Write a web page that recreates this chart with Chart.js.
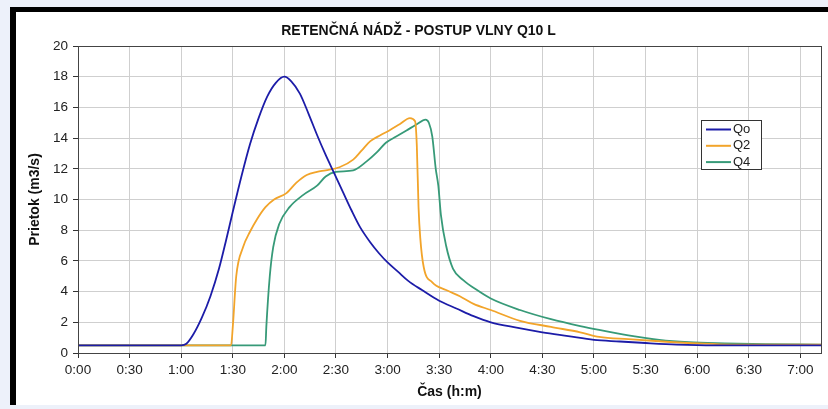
<!DOCTYPE html>
<html>
<head>
<meta charset="utf-8">
<title>Retenčná nádž - postup vlny Q10 L</title>
<script src="https://cdn.jsdelivr.net/npm/chart.js@4/dist/chart.umd.min.js"></script>
<style>
  body { margin: 0; background: #edf1fa; }
  #frame {
    position: absolute; left: 10px; top: 7px;
    width: 812px; height: 393px;
    background: #fff;
    border-left: 6px solid #000;
    border-top: 5px solid #000;
  }
  #chart { display: block; }
</style>
</head>
<body>
<div id="frame"><canvas id="chart" width="812" height="393"></canvas></div>
<script>
// time in minutes, flow in m3/s
var qoTime = [0, 60, 63, 67, 72, 77, 82, 86, 90, 95, 100, 105, 110, 115, 120, 124, 129, 134, 139, 144, 149, 154, 159, 164, 170, 175, 180, 186, 192, 200, 210, 220, 230, 240, 255, 270, 285, 300, 315, 330, 348, 370, 432];
var qoFlow = [0.5, 0.5, 0.6, 1.2, 2.3, 3.7, 5.5, 7.3, 9.2, 11.5, 13.6, 15.3, 16.7, 17.6, 18.0, 17.7, 16.9, 15.6, 14.2, 12.9, 11.7, 10.5, 9.3, 8.2, 7.2, 6.5, 5.9, 5.3, 4.7, 4.1, 3.4, 2.9, 2.4, 2.0, 1.65, 1.35, 1.1, 0.85, 0.75, 0.65, 0.55, 0.5, 0.5];

var q2Time = [0, 89, 90, 92, 96, 100, 104, 109, 114, 121, 127, 133, 139, 144, 152, 160, 165, 170, 176, 181, 187, 193, 196, 197, 198, 199, 201, 206, 214, 222, 230, 240, 257, 275, 292, 303, 320, 340, 361, 380, 432];
var q2Flow = [0.5, 0.5, 1.7, 5.0, 6.9, 7.9, 8.7, 9.5, 10.0, 10.4, 11.1, 11.6, 11.8, 11.9, 12.1, 12.6, 13.2, 13.8, 14.2, 14.5, 14.9, 15.3, 15.1, 13.5, 9.5, 7.5, 5.6, 4.6, 4.1, 3.7, 3.2, 2.8, 2.1, 1.7, 1.35, 1.05, 0.9, 0.75, 0.62, 0.55, 0.55];

var q4Time = [0, 109, 109.5, 111.5, 113.5, 117, 123, 131, 139, 144, 150, 160, 168, 174, 179, 185, 191, 197, 202, 204, 206, 208, 209.5, 211, 214, 218, 224, 232, 240, 257, 275, 292, 303, 320, 338, 355, 376, 400, 432];
var q4Flow = [0.5, 0.5, 1.7, 5.0, 6.9, 8.4, 9.5, 10.3, 10.9, 11.5, 11.8, 11.9, 12.5, 13.1, 13.7, 14.1, 14.5, 14.9, 15.2, 15.0, 14.1, 12.0, 10.9, 9.0, 7.0, 5.5, 4.75, 4.1, 3.55, 2.8, 2.2, 1.75, 1.5, 1.15, 0.85, 0.7, 0.63, 0.58, 0.55];

var seriesNames = ['Qo', 'Q2', 'Q4'];
var seriesColors = ['#1c1ca8', '#f2a42a', '#379a78'];

// x axis ticks (minutes) -> labels 0:00 ... 7:00
var xTickMinutes = [0, 30, 60, 90, 120, 150, 180, 210, 240, 270, 300, 330, 360, 390, 420];

function toPoints(times, flows) {
  var pts = [];
  for (var i = 0; i < times.length; i++) {
    pts.push({ x: times[i], y: flows[i] });
  }
  return pts;
}

function formatTime(min) {
  var h = Math.floor(min / 60);
  var m = min % 60;
  return h + ':' + (m < 10 ? '0' : '') + m;
}

// plot border + legend box inside the plot area
var boxPlugin = {
  id: 'boxPlugin',
  afterDraw: function (chart) {
    var ctx = chart.ctx;
    var a = chart.chartArea;
    ctx.save();
    ctx.strokeStyle = '#444';
    ctx.lineWidth = 1;
    ctx.strokeRect(Math.round(a.left) + 0.5, Math.round(a.top) + 0.5, Math.round(a.right - a.left), Math.round(a.bottom - a.top));

    var lx = Math.round(a.right) - 120, ly = Math.round(a.top) + 74;
    ctx.fillStyle = '#fff';
    ctx.fillRect(lx, ly, 60, 49);
    ctx.strokeStyle = '#333';
    ctx.strokeRect(lx + 0.5, ly + 0.5, 60, 49);
    ctx.font = '13px "Liberation Sans", Arial, sans-serif';
    ctx.textBaseline = 'middle';
    chart.data.datasets.forEach(function (ds, i) {
      var yy = ly + 9.5 + i * 16.3;
      ctx.strokeStyle = ds.borderColor;
      ctx.lineWidth = 2;
      ctx.beginPath();
      ctx.moveTo(lx + 5, yy);
      ctx.lineTo(lx + 30, yy);
      ctx.stroke();
      ctx.fillStyle = '#222';
      ctx.fillText(ds.label, lx + 32, yy);
    });
    ctx.restore();
  }
};

var tickFont = { family: '"Liberation Sans", Arial, sans-serif', size: 13.5 };
var boldFont = { family: '"Liberation Sans", Arial, sans-serif', size: 14, weight: 'bold' };

new Chart(document.getElementById('chart'), {
  type: 'line',
  data: {
    datasets: [
      { label: seriesNames[0], data: toPoints(qoTime, qoFlow), borderColor: seriesColors[0] },
      { label: seriesNames[1], data: toPoints(q2Time, q2Flow), borderColor: seriesColors[1] },
      { label: seriesNames[2], data: toPoints(q4Time, q4Flow), borderColor: seriesColors[2] }
    ]
  },
  options: {
    responsive: false,
    animation: false,
    layout: { padding: { left: 0, right: 7, top: 0, bottom: 0 } },
    elements: {
      point: { radius: 0 },
      line: { borderWidth: 1.8, cubicInterpolationMode: 'monotone', fill: false }
    },
    plugins: {
      legend: { display: false },
      tooltip: { enabled: false },
      title: {
        display: true,
        text: 'RETENČNÁ NÁDŽ - POSTUP VLNY Q10 L',
        color: '#111',
        font: boldFont,
        padding: { top: 10.5, bottom: 6.7 }
      }
    },
    scales: {
      x: {
        type: 'linear',
        min: 0,
        max: 432,
        afterFit: function (scale) { scale.height = 52; },
        afterBuildTicks: function (scale) {
          scale.ticks = xTickMinutes.map(function (v) { return { value: v }; });
        },
        ticks: {
          autoSkip: false,
          color: '#222',
          font: tickFont,
          padding: 4,
          maxRotation: 0,
          callback: function (v) { return formatTime(v); }
        },
        grid: { color: '#cfcfcf', tickColor: '#333', tickLength: 5 },
        border: { color: '#444' },
        title: {
          display: true,
          text: 'Čas (h:m)',
          color: '#111',
          font: boldFont,
          padding: { top: 0, bottom: 4.6 }
        }
      },
      y: {
        min: 0,
        max: 20,
        afterFit: function (scale) { scale.width = 62; },
        ticks: { stepSize: 2, color: '#222', font: tickFont, padding: 5 },
        grid: { color: '#cfcfcf', tickColor: '#333', tickLength: 5 },
        border: { color: '#444' },
        title: {
          display: true,
          text: 'Prietok (m3/s)',
          color: '#111',
          font: boldFont,
          padding: { top: 10.6, bottom: 0 }
        }
      }
    }
  },
  plugins: [boxPlugin]
});
</script>
</body>
</html>
